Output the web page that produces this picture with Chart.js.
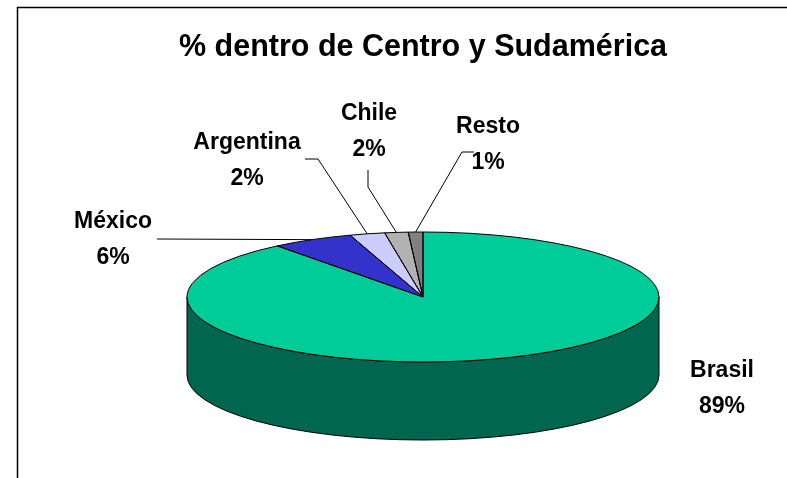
<!DOCTYPE html>
<html><head><meta charset="utf-8">
<script src="https://cdn.jsdelivr.net/npm/chart.js@4.4.0/dist/chart.umd.min.js"></script>
<style>html,body{margin:0;padding:0;background:#fff;} canvas{display:block;}</style>
</head><body>
<canvas id="c" width="787" height="478"></canvas>
<script>
// ---- data ----
const categories = ['Brasil', 'México', 'Argentina', 'Chile', 'Resto'];
const shares = [89.4, 5.6, 2.4, 1.6, 1.0];
const chartTitle = '% dentro de Centro y Sudamérica';

// ---- styles ----
const topColors = ['#00CC99', '#3333CC', '#CCCCFF', '#B2B2B2', '#808080'];
const sideColors = ['#006650', '#1A1A80', '#8080A0', '#707070', '#505050'];
const pie3d = { cx: 423, cy: 297, tilt: 65 / 236, depth: 78 };
const labelFont = 'bold 23px "Liberation Sans", Arial, sans-serif';
const labelLineGap = 36;
const labelLayout = [
  { x: 722, y: 371, leader: null },
  { x: 113, y: 222, leader: [[157, 239]] },
  { x: 247, y: 143, leader: [[305, 159], [318, 159]] },
  { x: 369, y: 114, leader: [[368, 170], [368, 187]] },
  { x: 488, y: 127, leader: [[474, 152], [462, 152]] }
];

Chart.defaults.font.family = '"Liberation Sans", Arial, sans-serif';

function frontRanges(s, e) {
  const out = [];
  for (let k = -2; k <= 2; k++) {
    const a = Math.max(s, 2 * Math.PI * k), b = Math.min(e, 2 * Math.PI * k + Math.PI);
    if (b > a) out.push([a, b]);
  }
  return out;
}

const pie3dPlugin = {
  id: 'pie3d',
  beforeDraw(chart) {
    const ctx = chart.ctx;
    ctx.save();
    ctx.fillStyle = '#fff';
    ctx.fillRect(0, 0, chart.width, chart.height);
    ctx.strokeStyle = '#000';
    ctx.lineWidth = 1.5;
    ctx.strokeRect(17.5, 7.5, chart.width + 50, chart.height + 50);
    ctx.restore();
  },
  beforeDatasetsDraw(chart) {
    const ctx = chart.ctx;
    const arcs = chart.getDatasetMeta(0).data;
    const a0 = arcs[0];
    const rx = a0.outerRadius, ry = rx * pie3d.tilt;
    const { cx, cy, depth } = pie3d;
    ctx.save();
    arcs.forEach((arc, i) => {
      frontRanges(arc.startAngle, arc.endAngle).forEach(([s, e]) => {
        ctx.beginPath();
        ctx.ellipse(cx, cy, rx, ry, 0, s, e, false);
        ctx.lineTo(cx + rx * Math.cos(e), cy + ry * Math.sin(e) + depth);
        ctx.ellipse(cx, cy + depth, rx, ry, 0, e, s, true);
        ctx.closePath();
        ctx.fillStyle = sideColors[i];
        ctx.fill();
        ctx.strokeStyle = '#000';
        ctx.lineWidth = 1;
        ctx.stroke();
      });
    });
    ctx.restore();
    ctx.save();
    ctx.translate(cx, cy);
    ctx.scale(1, pie3d.tilt);
    ctx.translate(-a0.x, -a0.y);
  },
  afterDatasetsDraw(chart) {
    const ctx = chart.ctx;
    ctx.restore();
    const arcs = chart.getDatasetMeta(0).data;
    const rx = arcs[0].outerRadius, ry = rx * pie3d.tilt;
    const { cx, cy } = pie3d;
    ctx.save();
    ctx.strokeStyle = '#000';
    ctx.lineWidth = 1;
    arcs.forEach(arc => {
      const s = arc.startAngle, e = arc.endAngle;
      ctx.beginPath();
      ctx.moveTo(cx, cy);
      ctx.lineTo(cx + rx * Math.cos(s), cy + ry * Math.sin(s));
      ctx.ellipse(cx, cy, rx, ry, 0, s, e, false);
      ctx.closePath();
      ctx.stroke();
    });
    const total = shares.reduce((a, b) => a + b, 0);
    ctx.font = labelFont;
    ctx.fillStyle = '#000';
    ctx.textAlign = 'center';
    ctx.textBaseline = 'middle';
    arcs.forEach((arc, i) => {
      const L = labelLayout[i];
      ctx.fillText(categories[i], L.x, L.y);
      ctx.fillText(Math.round(shares[i] / total * 100) + '%', L.x, L.y + labelLineGap);
      if (L.leader) {
        const mid = (arc.startAngle + arc.endAngle) / 2;
        ctx.beginPath();
        ctx.moveTo(L.leader[0][0], L.leader[0][1]);
        for (let k = 1; k < L.leader.length; k++) ctx.lineTo(L.leader[k][0], L.leader[k][1]);
        ctx.lineTo(cx + rx * Math.cos(mid), cy + ry * Math.sin(mid));
        ctx.stroke();
      }
    });
    ctx.restore();
  }
};

new Chart(document.getElementById('c'), {
  type: 'pie',
  data: {
    labels: categories,
    datasets: [{
      data: shares,
      backgroundColor: topColors,
      borderWidth: 0,
      radius: 236,
      clip: false
    }]
  },
  options: {
    responsive: false,
    animation: false,
    events: [],
    layout: { padding: { left: 59, right: 0, top: 0, bottom: 0 } },
    plugins: {
      legend: { display: false },
      tooltip: { enabled: false },
      title: {
        display: true,
        text: chartTitle,
        color: '#000',
        font: { size: 30.5, weight: 'bold' },
        padding: { top: 29, bottom: 0 }
      }
    }
  },
  plugins: [pie3dPlugin]
});
</script>
</body></html>
